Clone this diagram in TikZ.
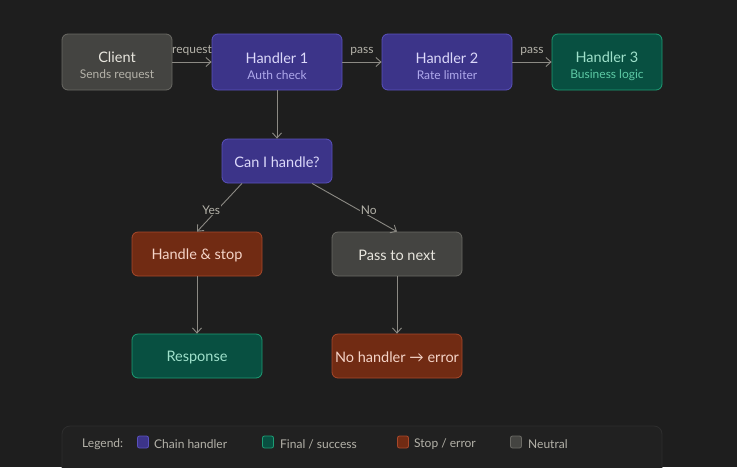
\documentclass[tikz,border=0pt]{standalone}
\usepackage{fontspec}
\setmainfont{Lato}
\usetikzlibrary{arrows.meta,calc}
\definecolor{bg}{HTML}{1E1E1E}
\definecolor{neufill}{HTML}{444441}
\definecolor{neustroke}{HTML}{6A6964}
\definecolor{neutitle}{HTML}{E8E6DE}
\definecolor{neusub}{HTML}{B4B2A9}
\definecolor{purfill}{HTML}{3C3489}
\definecolor{purstroke}{HTML}{5A51BD}
\definecolor{purtitle}{HTML}{DCD9FA}
\definecolor{pursub}{HTML}{AFA9EC}
\definecolor{grnfill}{HTML}{085041}
\definecolor{grnstroke}{HTML}{1D9E75}
\definecolor{grntitle}{HTML}{9FE1CB}
\definecolor{grnsub}{HTML}{5DCAA5}
\definecolor{redfill}{HTML}{712B13}
\definecolor{redstroke}{HTML}{A8482A}
\definecolor{redtitle}{HTML}{F5D4C8}
\definecolor{arrowc}{HTML}{8C8A84}
\definecolor{labelc}{HTML}{B4B2A9}
\definecolor{legfill}{HTML}{212121}
\definecolor{legstroke}{HTML}{2E2E2E}
\tikzset{
  box/.style={draw, line width=0.8pt, rounded corners=6pt, align=center, inner sep=0pt},
  neu/.style={box, fill=neufill, draw=neustroke, text=neutitle},
  pur/.style={box, fill=purfill, draw=purstroke, text=purtitle},
  grn/.style={box, fill=grnfill, draw=grnstroke, text=grntitle},
  red/.style={box, fill=redfill, draw=redstroke, text=redtitle},
  arr/.style={draw=arrowc, line width=0.9pt, -{Straight Barb[length=5pt,width=9pt]}},
  elabel/.style={text=labelc, font=\fontsize{12}{14}\selectfont, inner sep=1pt},
  ttl/.style={font=\fontsize{14.5}{16}\selectfont},
  swatch/.style={draw, line width=0.8pt, rounded corners=2pt, minimum width=11pt, minimum height=12pt, inner sep=0pt},
  legtext/.style={text=neusub, font=\fontsize{12}{14}\selectfont, anchor=west, inner sep=0pt}
}
\newcommand{\tstrut}{\rule{0pt}{20pt}}
\newcommand{\sstrut}{\rule{0pt}{13pt}}
\begin{document}
\begin{tikzpicture}[x=1pt,y=-1pt]
\useasboundingbox (0,0) rectangle (737,467);
\fill[bg] (0,0) rectangle (737,467);
\begin{scope}
\clip (0,0) rectangle (737,467);
\draw[fill=legfill, draw=legstroke, line width=0.8pt, rounded corners=8pt] (62,426) rectangle (662,490);
\end{scope}

% top row
\node[neu, minimum width=110pt, minimum height=56pt] (client) at (117,62)
  {{\fontsize{14.5}{16}\selectfont\tstrut Client}\\[4pt]{\fontsize{12}{14}\selectfont\color{neusub}Sends request}};
\node[pur, minimum width=130pt, minimum height=56pt] (h1) at (277,62)
  {{\fontsize{14.5}{16}\selectfont\tstrut Handler 1}\\[4pt]{\fontsize{12}{14}\selectfont\color{pursub}Auth check}};
\node[pur, minimum width=130pt, minimum height=56pt] (h2) at (447,62)
  {{\fontsize{14.5}{16}\selectfont\tstrut Handler 2}\\[4pt]{\fontsize{12}{14}\selectfont\color{pursub}Rate limiter}};
\node[grn, minimum width=110pt, minimum height=56pt] (h3) at (607,62)
  {{\fontsize{14.5}{16}\selectfont\tstrut Handler 3}\\[4pt]{\fontsize{12}{14}\selectfont\color{grnsub}Business logic}};

% decision
\node[pur, ttl, minimum width=110pt, minimum height=44pt] (can) at (277,161) {\sstrut Can I handle?};
\node[red, ttl, minimum width=130pt, minimum height=44pt] (hs) at (197,254) {\sstrut Handle \& stop};
\node[neu, ttl, minimum width=130pt, minimum height=44pt] (pn) at (397,254) {\sstrut Pass to next};
\node[grn, ttl, minimum width=130pt, minimum height=44pt] (resp) at (197,356) {\sstrut Response};
\node[red, ttl, minimum width=130pt, minimum height=44pt] (err) at (397,356) {\sstrut No handler \symbol{"2192} error};

% connectors
\draw[arr] (client) -- node[elabel, above=5pt] {request} (h1);
\draw[arr] (h1) -- node[elabel, above=5pt] {pass} (h2);
\draw[arr] (h2) -- node[elabel, above=5pt] {pass} (h3);
\draw[arr] (h1) -- (can);
\draw[arr] ($(can.south)+(-35,0)$) -- node[elabel, fill=bg, pos=0.55, xshift=-6pt] {Yes} (hs.north);
\draw[arr] ($(can.south)+(35,0)$) -- node[elabel, fill=bg, pos=0.55, xshift=10pt] {No} (pn.north);
\draw[arr] (hs) -- (resp);
\draw[arr] (pn) -- (err);

% legend
\node[legtext] (leg) at (82,444) {Legend:};
\node[swatch, fill=purfill, draw=purstroke] (s1) at (143,442) {};
\node[legtext] (l1) at (154,444) {Chain handler};
\node[swatch, fill=grnfill, draw=grnstroke] (s2) at (268,442) {};
\node[legtext] (l2) at (280,444) {Final / success};
\node[swatch, fill=redfill, draw=redstroke] (s3) at (403,442) {};
\node[legtext] (l3) at (414,444) {Stop / error};
\node[swatch, fill=neufill, draw=neustroke] (s4) at (516,442) {};
\node[legtext] (l4) at (528,444) {Neutral};
\end{tikzpicture}
\end{document}
